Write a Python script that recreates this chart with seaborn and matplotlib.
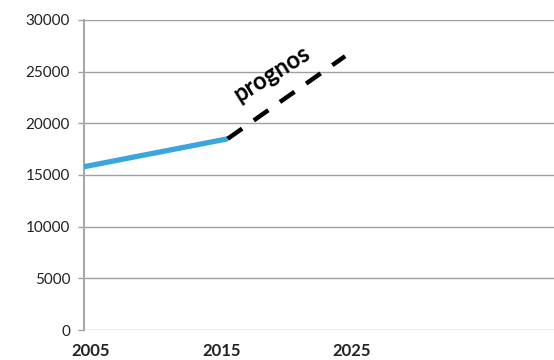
import matplotlib
matplotlib.use("Agg")
import matplotlib.pyplot as plt
import matplotlib.transforms as mtrans
import seaborn as sns
import pandas as pd

years_hist = [2005, 2016]
values_hist = [15800, 18500]
years_prog = [2016, 2025]
values_prog = [18500, 26500]
x_ticks = [2005, 2015, 2025]
y_ticks = [0, 5000, 10000, 15000, 20000, 25000, 30000]
label_text = "prognos"

sns.set_theme(style="white")
plt.rcParams['font.family'] = ['Lato', 'DejaVu Sans']

fig = plt.figure(figsize=(5.54, 3.6), dpi=100)
ax = fig.add_axes([84/554, 30/360, 1 - 84/554, 310/360])

df_h = pd.DataFrame({"year": years_hist, "value": values_hist})
df_p = pd.DataFrame({"year": years_prog, "value": values_prog})

for y in y_ticks:
    ax.axhline(y, color="#a0a0a0", lw=1.0, zorder=0)

sns.lineplot(data=df_h, x="year", y="value", ax=ax, color="#3aa6df", lw=3.8,
             solid_capstyle="butt", zorder=3)
sns.lineplot(data=df_p, x="year", y="value", ax=ax, color="black", lw=3.2,
             dashes=False, zorder=3)
ax.lines[-1].set_dashes([4, 3.2])

ax.set_xlim(2005, 2041)
ax.set_ylim(0, 30000)
ax.set_xticks(x_ticks)
ax.set_xticklabels([str(t) for t in x_ticks], fontsize=12, fontweight="bold", color="#222222")
ax.set_yticks(y_ticks)
ax.set_yticklabels([str(t) for t in y_ticks], fontsize=11, color="#222222")
ax.tick_params(axis="y", length=4, width=1, color="#a0a0a0", pad=6, left=True)
ax.tick_params(axis="x", length=0, pad=9)
off = mtrans.ScaledTranslation(7/100, 0, fig.dpi_scale_trans)
for lab in ax.get_xticklabels():
    lab.set_transform(lab.get_transform() + off)
ax.set_xlabel("")
ax.set_ylabel("")
for s in ["top", "right", "bottom"]:
    ax.spines[s].set_visible(False)
ax.spines["left"].set_color("#a8a8a8")
ax.spines["left"].set_linewidth(1.5)

ax.text(2019.4, 24800, label_text, rotation=32, fontsize=17, fontweight="bold",
        ha="center", va="center", color="black")

fig.savefig("out.png", dpi=100)
